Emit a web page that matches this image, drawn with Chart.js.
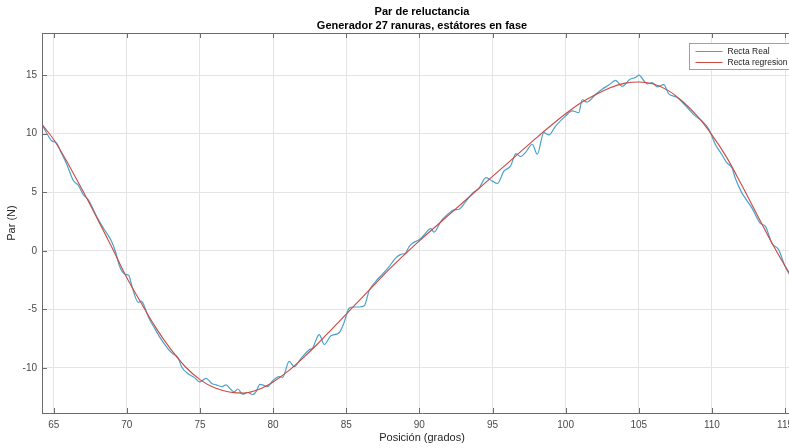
<!DOCTYPE html>
<html>
<head>
<meta charset="utf-8">
<title>Par de reluctancia</title>
<script src="https://cdn.jsdelivr.net/npm/chart.js@4.4.0/dist/chart.umd.min.js"></script>
<style>
  html, body { margin: 0; padding: 0; overflow: hidden; background: #fff; }
  #wrap { width: 802px; height: 448px; }
</style>
</head>
<body>
<div id="wrap"><canvas id="parChart" width="802" height="448"></canvas></div>
<script>
// medida real del par (grados, N)
const realX = [64.2, 64.5, 64.86, 65.2, 65.43, 65.89, 66.34, 66.68, 67.02, 67.37, 67.93, 68.39, 68.96,
  69.23, 69.5, 69.87, 70.14, 70.32, 70.78, 71.0, 71.12, 71.46, 72.03, 72.37, 73.05, 73.51, 73.74,
  74.19, 74.65, 74.96, 75.42, 75.78, 76.1, 76.5, 76.78, 77.12, 77.35, 77.58, 77.92, 78.26, 78.6,
  78.85, 79.1, 79.4, 79.63, 79.97, 80.42, 80.65, 81.1, 81.45, 81.9, 82.47, 82.7, 83.15, 83.5,
  83.95, 84.52, 84.86, 85.2, 85.5, 85.88, 86.23, 86.57, 87.02, 87.48, 87.93, 88.39, 88.73, 89.05,
  89.3, 89.53, 89.98, 90.32, 90.78, 91.0, 91.46, 91.8, 92.37, 92.71, 93.17, 93.62, 94.08, 94.55,
  94.99, 95.33, 95.78, 96.24, 96.6, 96.92, 97.26, 97.72, 98.06, 98.51, 98.85, 99.31, 99.99,
  100.45, 100.9, 101.13, 101.47, 102.04, 102.5, 102.95, 103.41, 103.86, 104.4, 104.77, 105.02,
  105.36, 105.6, 105.91, 106.25, 106.71, 107.05, 107.62, 108.19, 108.87, 109.32, 109.78, 110.23,
  110.69, 111.03, 111.37, 111.6, 112.05, 112.28, 112.74, 113.31, 113.65, 114.1, 114.56, 115.01, 115.3];
const realY = [10.8, 10.1, 9.4, 9.2, 8.6, 7.4, 6.0, 5.6, 4.8, 4.35, 2.95, 1.95, 0.8,
  -0.1, -1.3, -2.0, -2.1, -2.9, -4.4, -4.3, -4.5, -5.6, -6.9, -7.6, -8.7, -9.15, -9.9,
  -10.5, -10.85, -11.2, -10.9, -11.3, -11.45, -11.6, -11.45, -11.85, -12.05, -11.8, -12.25, -12.1, -12.28,
  -12.0, -11.4, -11.5, -11.6, -11.1, -10.75, -10.8, -9.45, -9.9, -9.2, -8.45, -8.3, -7.15, -8.0,
  -7.25, -7.0, -6.1, -4.9, -4.8, -4.8, -4.7, -3.4, -2.6, -2.0, -1.35, -0.6, -0.3, -0.2,
  0.35, 0.65, 0.95, 1.35, 1.9, 1.6, 2.5, 2.95, 3.5, 3.55, 4.2, 4.9, 5.35, 6.25,
  5.95, 5.75, 6.8, 7.25, 8.3, 8.05, 8.4, 9.1, 8.25, 10.1, 9.9, 10.65, 11.5,
  11.95, 11.8, 12.9, 12.7, 13.35, 13.8, 14.15, 14.55, 14.05, 14.65, 14.8, 15.0,
  14.5, 14.25, 14.37, 14.0, 14.2, 13.4, 13.1, 12.4, 11.5, 11.1, 10.4, 9.1,
  8.2, 7.5, 7.1, 6.2, 4.95, 4.5, 3.65, 2.35, 2.1, 0.65, 0.1, -1.35, -2.0];

// curva de regresion
const regX = [64.2, 65, 66, 67, 68, 69, 70, 71, 72, 73, 74, 75, 76, 77, 78, 79, 80, 81, 82, 83, 84,
  85, 86, 87, 88, 89, 90, 91, 92, 93, 94, 95, 96, 97, 98, 99, 100, 101, 102, 103, 104, 105,
  106, 107, 108, 109, 110, 111, 112, 113, 114, 115, 115.3];
const regY = [10.8, 9.5, 7.4, 5.1, 2.7, 0.25, -2.3, -4.5, -6.6, -8.4, -9.9, -11.0, -11.7, -12.05, -12.15,
  -11.85, -11.2, -10.3, -9.2, -8.0, -6.7, -5.4, -4.1, -2.8, -1.5, -0.3, 0.85, 1.95, 3.05, 4.15,
  5.25, 6.35, 7.45, 8.55, 9.65, 10.7, 11.7, 12.6, 13.3, 13.9, 14.3, 14.42, 14.25, 13.7, 12.75,
  11.5, 9.9, 8.0, 5.7, 3.3, 0.9, -1.3, -1.9];

const xTicks = [65, 70, 75, 80, 85, 90, 95, 100, 105, 110, 115];
const yTicks = [-10, -5, 0, 5, 10, 15];

const FONT = '"Liberation Sans", Arial, Helvetica, sans-serif';
const AXIS_COLOR = '#6b6b6b';

const toPoints = (xs, ys) => xs.map((x, i) => ({ x: x, y: ys[i] }));

// marcas hacia dentro, borde superior y leyenda tipo matlab
const matlabFrame = {
  id: 'matlabFrame',
  afterDraw(chart) {
    const { ctx, chartArea: a, scales } = chart;
    ctx.save();
    ctx.strokeStyle = AXIS_COLOR;
    ctx.lineWidth = 1;
    ctx.beginPath();
    ctx.moveTo(a.left, a.top + 0.5);
    ctx.lineTo(a.right, a.top + 0.5);
    xTicks.forEach(v => {
      const px = Math.round(scales.x.getPixelForValue(v)) + 0.5;
      ctx.moveTo(px, a.bottom); ctx.lineTo(px, a.bottom - 5);
      ctx.moveTo(px, a.top); ctx.lineTo(px, a.top + 5);
    });
    yTicks.forEach(v => {
      const py = Math.round(scales.y.getPixelForValue(v)) + 0.5;
      ctx.moveTo(a.left, py); ctx.lineTo(a.left + 5, py);
      ctx.moveTo(a.right, py); ctx.lineTo(a.right - 5, py);
    });
    ctx.stroke();

    // leyenda
    ctx.font = '8.5px ' + FONT;
    const sets = chart.data.datasets;
    const textW = Math.max(...sets.map(d => ctx.measureText(d.label).width));
    const w = 6 + 27 + 5 + textW + 6;
    const h = 26;
    const bx = Math.round(a.right - 113) + 0.5;
    const by = Math.round(a.top + 10) + 0.5;
    ctx.fillStyle = '#ffffff';
    ctx.fillRect(bx, by, w, h);
    ctx.strokeStyle = '#a0a0a0';
    ctx.strokeRect(bx, by, w, h);
    ctx.textBaseline = 'middle';
    sets.forEach((d, i) => {
      const ry = by + 8 + i * 11;
      ctx.strokeStyle = d.borderColor;
      ctx.lineWidth = 1;
      ctx.beginPath();
      ctx.moveTo(bx + 6, ry); ctx.lineTo(bx + 33, ry);
      ctx.stroke();
      ctx.fillStyle = '#1a1a1a';
      ctx.fillText(d.label, bx + 38, ry);
    });
    ctx.restore();
  }
};

new Chart(document.getElementById('parChart'), {
  type: 'line',
  data: {
    datasets: [{
      label: 'Recta Real',
      data: toPoints(realX, realY),
      borderColor: '#4aa2cc',
      borderWidth: 1.2,
      pointRadius: 0,
      cubicInterpolationMode: 'monotone',
      order: 1
    }, {
      label: 'Recta regresion',
      data: toPoints(regX, regY),
      borderColor: '#cc4842',
      borderWidth: 1.1,
      pointRadius: 0,
      cubicInterpolationMode: 'monotone',
      order: 0
    }]
  },
  options: {
    responsive: false,
    animation: false,
    devicePixelRatio: 1,
    layout: { padding: 0 },
    plugins: {
      legend: { display: false },
      tooltip: { enabled: false },
      title: {
        display: true,
        fullSize: false,
        text: 'Par de reluctancia',
        color: '#000',
        font: { family: FONT, size: 11, weight: 'bold' },
        padding: { top: 5, bottom: 0 }
      },
      subtitle: {
        display: true,
        fullSize: false,
        text: 'Generador 27 ranuras, estátores en fase',
        color: '#000',
        font: { family: FONT, size: 11, weight: 'bold' },
        padding: { top: 1, bottom: 0.6 }
      }
    },
    scales: {
      x: {
        type: 'linear',
        min: 64.2,
        max: 116.16,
        afterBuildTicks: s => { s.ticks = xTicks.map(v => ({ value: v })); },
        afterFit: s => { s.height = 35; s.paddingLeft = 0; s.paddingRight = 0; },
        grid: { color: '#e4e4e4', drawTicks: false },
        border: { color: AXIS_COLOR },
        ticks: { color: '#4a4a4a', padding: 6, maxRotation: 0, font: { family: FONT, size: 10 } },
        title: {
          display: true,
          text: 'Posición (grados)',
          color: '#262626',
          font: { family: FONT, size: 11 },
          padding: { top: 0, bottom: 3.4 }
        }
      },
      y: {
        min: -13.85,
        max: 18.6,
        afterBuildTicks: s => { s.ticks = yTicks.map(v => ({ value: v })); },
        afterFit: s => { s.width = 42; s.paddingTop = 0; s.paddingBottom = 0; },
        grid: { color: '#e4e4e4', drawTicks: false },
        border: { color: AXIS_COLOR },
        ticks: { color: '#4a4a4a', padding: 5, font: { family: FONT, size: 10 } },
        title: {
          display: true,
          text: 'Par (N)',
          color: '#262626',
          font: { family: FONT, size: 11 },
          padding: { top: 5.4, bottom: 0 }
        }
      }
    }
  },
  plugins: [matlabFrame]
});
</script>
</body>
</html>
